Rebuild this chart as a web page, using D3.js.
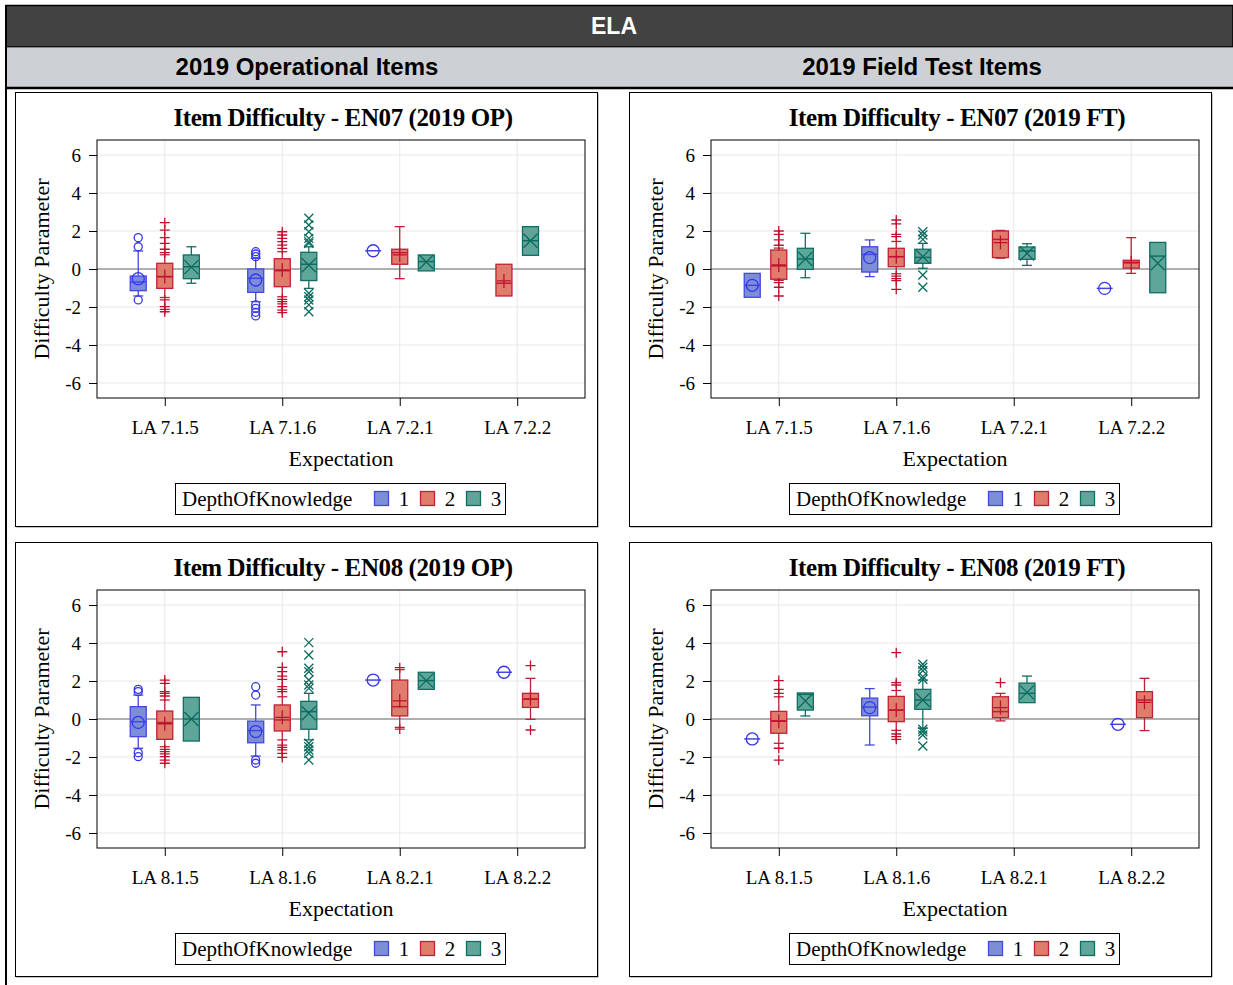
<!DOCTYPE html>
<html>
<head>
<meta charset="utf-8">
<script src="https://cdn.jsdelivr.net/npm/d3@7"></script>
<style>
  body { margin: 0; background: #fff; }
  svg { display: block; }
</style>
</head>
<body>
<svg width="1233" height="985"></svg>
<script>
// ---- data ----
const cats07 = ["LA 7.1.5", "LA 7.1.6", "LA 7.2.1", "LA 7.2.2"];
const cats08 = ["LA 8.1.5", "LA 8.1.6", "LA 8.2.1", "LA 8.2.2"];
const dokLevels = [1, 2, 3];
const yTicks = [-6, -4, -2, 0, 2, 4, 6];

// [category, dok, min, q1, median, q3, max, mean, outliers]
const en07OP = [
  ["LA 7.1.5", 1, -1.42, -1.14, -0.68, -0.37, 0.95, -0.51, [1.65, 1.17, -1.63]],
  ["LA 7.1.5", 2, -1.5, -1.02, -0.4, 0.3, 0.75, -0.4, [2.44, 2.05, 1.65, 1.35, 1.04, 0.86, -1.63, -1.98, -2.12, -2.25]],
  ["LA 7.1.5", 3, -0.75, -0.51, 0.12, 0.74, 1.17, 0.1, []],
  ["LA 7.1.6", 1, -1.72, -1.23, -0.49, 0.0, 0.56, -0.58, [0.91, 0.79, 0.65, -1.89, -2.07, -2.28, -2.47]],
  ["LA 7.1.6", 2, -1.46, -0.93, -0.09, 0.54, 0.91, -0.05, [1.96, 1.79, 1.61, 1.44, 1.26, 1.09, -1.6, -1.72, -1.84, -1.98, -2.16, -2.3]],
  ["LA 7.1.6", 3, -1.02, -0.61, 0.25, 0.88, 1.17, 0.2, [2.67, 2.32, 1.96, 1.61, 1.44, 1.35, -1.28, -1.46, -1.63, -1.89, -2.25]],
  ["LA 7.2.1", 1, 0.96, 0.96, 0.96, 0.96, 0.96, 0.96, []],
  ["LA 7.2.1", 2, -0.51, 0.25, 0.86, 1.04, 2.23, 0.74, []],
  ["LA 7.2.1", 3, -0.1, -0.1, 0.39, 0.74, 0.74, 0.37, []],
  ["LA 7.2.2", 2, -1.42, -1.42, -0.75, 0.25, 0.25, -0.63, []],
  ["LA 7.2.2", 3, 0.72, 0.72, 1.49, 2.23, 2.23, 1.49, []]
];

const en07FT = [
  ["LA 7.1.5", 1, -1.49, -1.49, -0.86, -0.23, -0.23, -0.86, []],
  ["LA 7.1.5", 2, -0.6, -0.54, 0.16, 1.0, 1.1, 0.21, [2.0, 1.82, 1.53, 1.25, -0.72, -0.96, -1.42]],
  ["LA 7.1.5", 3, -0.46, -0.02, 0.53, 1.09, 1.88, 0.53, []],
  ["LA 7.1.6", 1, -0.4, -0.16, 0.77, 1.17, 1.53, 0.6, []],
  ["LA 7.1.6", 2, -0.25, 0.12, 0.65, 1.09, 1.45, 0.65, [2.58, 2.37, 1.82, 1.7, -0.37, -0.51, -0.61, -1.07]],
  ["LA 7.1.6", 3, 0.04, 0.3, 0.61, 1.04, 1.35, 0.65, [1.96, 1.79, 1.56, -0.32, -0.96]],
  ["LA 7.2.1", 2, 0.57, 0.6, 1.56, 2.0, 2.03, 1.39, []],
  ["LA 7.2.1", 3, 0.19, 0.51, 0.95, 1.16, 1.33, 0.82, []],
  ["LA 7.2.2", 1, -1.02, -1.02, -1.02, -1.02, -1.02, -1.02, []],
  ["LA 7.2.2", 2, -0.23, 0.05, 0.35, 0.46, 1.65, 0.33, []],
  ["LA 7.2.2", 3, -1.25, -1.25, 0.68, 1.4, 1.4, 0.3, []]
];

const en08OP = [
  ["LA 8.1.5", 1, -1.54, -0.93, -0.14, 0.65, 1.26, -0.18, [1.56, 1.44, -1.77, -1.98]],
  ["LA 8.1.5", 2, -1.46, -1.07, -0.19, 0.42, 1.0, -0.25, [2.05, 1.88, 1.44, 1.35, 1.21, -1.6, -1.72, -1.84, -1.98, -2.16, -2.33]],
  ["LA 8.1.5", 3, -1.16, -1.16, 0.0, 1.14, 1.14, 0.0, []],
  ["LA 8.1.6", 1, -1.95, -1.25, -0.61, -0.11, 0.74, -0.66, [1.7, 1.26, -2.16, -2.33]],
  ["LA 8.1.6", 2, -1.1, -0.63, -0.05, 0.74, 1.17, 0.09, [3.54, 2.72, 2.49, 2.26, 2.09, 1.7, 1.56, 1.44, -1.37, -1.49, -1.63, -1.81, -2.02]],
  ["LA 8.1.6", 3, -1.1, -0.54, 0.39, 0.93, 1.35, 0.3, [4.02, 3.37, 2.67, 2.49, 2.05, 1.79, 1.61, -1.28, -1.46, -1.63, -1.81, -2.16]],
  ["LA 8.2.1", 1, 2.05, 2.05, 2.05, 2.05, 2.05, 2.05, []],
  ["LA 8.2.1", 2, -0.44, 0.16, 0.65, 2.05, 2.6, 0.95, [2.7, -0.53]],
  ["LA 8.2.1", 3, 1.56, 1.56, 2.02, 2.46, 2.46, 2.02, []],
  ["LA 8.2.2", 1, 2.46, 2.46, 2.46, 2.46, 2.46, 2.46, []],
  ["LA 8.2.2", 2, -0.02, 0.61, 1.04, 1.35, 2.14, 1.06, [2.81, -0.58]]
];

const en08FT = [
  ["LA 8.1.5", 1, -1.05, -1.05, -1.05, -1.05, -1.05, -1.05, []],
  ["LA 8.1.5", 2, -1.28, -0.75, -0.09, 0.4, 1.17, -0.12, [2.02, 1.56, 1.35, -1.54, -2.16]],
  ["LA 8.1.5", 3, 0.16, 0.47, 1.3, 1.37, 1.37, 0.95, []],
  ["LA 8.1.6", 1, -1.37, 0.17, 0.63, 1.1, 1.6, 0.6, []],
  ["LA 8.1.6", 2, -0.6, -0.14, 0.47, 1.19, 1.5, 0.47, [3.49, 1.91, 1.79, -0.79, -0.93, -1.07]],
  ["LA 8.1.6", 3, -0.49, 0.51, 1.0, 1.56, 2.05, 1.0, [2.88, 2.72, 2.54, 2.23, 2.09, -0.54, -0.67, -0.84, -1.42]],
  ["LA 8.2.1", 2, -0.1, 0.07, 0.39, 1.17, 1.35, 0.6, [1.91]],
  ["LA 8.2.1", 3, 0.86, 0.86, 1.35, 1.89, 2.26, 1.4, []],
  ["LA 8.2.2", 1, -0.28, -0.28, -0.28, -0.28, -0.28, -0.28, []],
  ["LA 8.2.2", 2, -0.61, 0.07, 1.0, 1.44, 2.14, 0.88, []]
];

// ---- styles ----
const fillColor = {1: "#7c8fd6", 2: "#e07c6c", 3: "#5ea59a"};
const lineColor = {1: "#4646e0", 2: "#c01f38", 3: "#0f6e62"};
const markColor = {1: "#3535ee", 2: "#c0102e", 3: "#0c6b5f"};
const markType = {1: "circle", 2: "plus", 3: "x"};

function marker(type, r) {
  if (type == "circle")
    return "M" + (-r) + ",0a" + r + "," + r + " 0 1,0 " + (2 * r) + ",0a" + r + "," + r + " 0 1,0 " + (-2 * r) + ",0";
  if (type == "plus")
    return "M" + (-r) + ",0H" + r + "M0," + (-r) + "V" + r;
  return "M" + (-r) + "," + (-r) + "L" + r + "," + r + "M" + (-r) + "," + r + "L" + r + "," + (-r);
}
const outR = {circle: 4, plus: 5, x: 4.5};
const meanR = {circle: 6, plus: 7, x: 7};

let svg = d3.select("svg");
const W = 1233, serif = "Liberation Serif, Times New Roman, serif", sans = "Liberation Sans, Arial, sans-serif";

// ---- header bars ----
svg.append("rect").attr("x", 6).attr("y", 5.5).attr("width", W - 6).attr("height", 41.5)
  .attr("fill", "#424242").attr("stroke", "#000").attr("stroke-width", 1.5);
svg.append("rect").attr("x", 6).attr("y", 47.5).attr("width", W - 6).attr("height", 40)
  .attr("fill", "#cdd1d5");
svg.append("line").attr("x1", 6).attr("x2", W).attr("y1", 88).attr("y2", 88)
  .attr("stroke", "#000").attr("stroke-width", 2.5);
svg.append("line").attr("x1", 6).attr("x2", 6).attr("y1", 5).attr("y2", 985)
  .attr("stroke", "#000").attr("stroke-width", 2);

svg.append("text").attr("x", 614).attr("y", 34).attr("text-anchor", "middle")
  .attr("font-family", sans).attr("font-weight", "bold").attr("font-size", 23)
  .attr("fill", "#fff").text("ELA");
svg.append("text").attr("x", 307).attr("y", 75).attr("text-anchor", "middle")
  .attr("font-family", sans).attr("font-weight", "bold").attr("font-size", 24)
  .text("2019 Operational Items");
svg.append("text").attr("x", 922).attr("y", 75).attr("text-anchor", "middle")
  .attr("font-family", sans).attr("font-weight", "bold").attr("font-size", 24)
  .text("2019 Field Test Items");

// ---- one panel ----
function drawPanel(ox, oy, title, cats, rows) {
  let g = svg.append("g").attr("transform", "translate(" + ox + "," + oy + ")");
  const pw = 582, ph = 434;
  const left = 82, right = 570, top = 48, bottom = 306;

  // panel border with small shadow
  g.append("rect").attr("x", 1.5).attr("y", 1.5).attr("width", pw).attr("height", ph).attr("fill", "#8a8a8a");
  g.append("rect").attr("x", 0.5).attr("y", 0.5).attr("width", pw).attr("height", ph)
    .attr("fill", "#fff").attr("stroke", "#000").attr("stroke-width", 1);

  let x = d3.scalePoint().domain(cats).range([left, right]).padding(0.577);
  let y = d3.scaleLinear().domain([-6.79, 6.79]).range([bottom, top]);
  const cx = (left + right) / 2;

  g.append("text").attr("x", cx + 2).attr("y", 34).attr("text-anchor", "middle")
    .attr("font-family", serif).attr("font-weight", "bold").attr("font-size", 25)
    .attr("letter-spacing", -0.4).text(title);

  // grid
  g.append("g").selectAll("line").data(yTicks).enter().append("line")
    .attr("x1", left).attr("x2", right).attr("y1", d => y(d)).attr("y2", d => y(d))
    .attr("stroke", "#e8e8e8").attr("stroke-width", 1);
  g.append("g").selectAll("line").data(cats).enter().append("line")
    .attr("x1", d => x(d)).attr("x2", d => x(d)).attr("y1", top).attr("y2", bottom)
    .attr("stroke", "#e8e8e8").attr("stroke-width", 1);
  // reference line at 0
  g.append("line").attr("x1", left).attr("x2", right).attr("y1", y(0)).attr("y2", y(0))
    .attr("stroke", "#999").attr("stroke-width", 1.5);

  // axes
  let yAxis = g.append("g").attr("transform", "translate(" + left + ",0)")
    .call(d3.axisLeft(y).tickValues(yTicks).tickFormat(d => String(d)).tickSize(8).tickPadding(8));
  let xAxis = g.append("g").attr("transform", "translate(0," + bottom + ")")
    .call(d3.axisBottom(x).tickSize(8).tickPadding(15));
  [yAxis, xAxis].forEach(a => {
    a.select(".domain").remove();
    a.selectAll("line").attr("stroke", "#000");
    a.selectAll("text").attr("font-family", serif).attr("font-size", 19).attr("fill", "#000");
  });

  // frame
  g.append("rect").attr("x", left).attr("y", top).attr("width", right - left).attr("height", bottom - top)
    .attr("fill", "none").attr("stroke", "#000").attr("stroke-width", 1);

  // axis labels
  g.append("text").attr("x", cx).attr("y", 374).attr("text-anchor", "middle")
    .attr("font-family", serif).attr("font-size", 22).text("Expectation");
  g.append("text").attr("transform", "translate(34," + ((top + bottom) / 2) + ") rotate(-90)")
    .attr("text-anchor", "middle").attr("font-family", serif).attr("font-size", 22)
    .text("Difficulty Parameter");

  // boxes
  const gap = x.step() * 0.226, bw = 16, cap = 5;
  rows.forEach(r => {
    const [cat, dok, mn, q1, med, q3, mx, mean, outs] = r;
    const present = rows.filter(s => s[0] == cat).map(s => s[1]);
    const i = present.indexOf(dok);
    const px = x(cat) + (i - (present.length - 1) / 2) * gap;
    let b = g.append("g");
    // whiskers
    b.append("line").attr("x1", px).attr("x2", px).attr("y1", y(mn)).attr("y2", y(q1))
      .attr("stroke", lineColor[dok]).attr("stroke-width", 1.3);
    b.append("line").attr("x1", px).attr("x2", px).attr("y1", y(q3)).attr("y2", y(mx))
      .attr("stroke", lineColor[dok]).attr("stroke-width", 1.3);
    if (mx > q3) b.append("line").attr("x1", px - cap).attr("x2", px + cap).attr("y1", y(mx)).attr("y2", y(mx))
      .attr("stroke", lineColor[dok]).attr("stroke-width", 1.3);
    if (mn < q1) b.append("line").attr("x1", px - cap).attr("x2", px + cap).attr("y1", y(mn)).attr("y2", y(mn))
      .attr("stroke", lineColor[dok]).attr("stroke-width", 1.3);
    // box
    if (q3 > q1) b.append("rect").attr("x", px - bw / 2).attr("y", y(q3)).attr("width", bw).attr("height", y(q1) - y(q3))
      .attr("fill", fillColor[dok]).attr("stroke", lineColor[dok]).attr("stroke-width", 1.3);
    // median
    b.append("line").attr("x1", px - bw / 2).attr("x2", px + bw / 2).attr("y1", y(med)).attr("y2", y(med))
      .attr("stroke", lineColor[dok]).attr("stroke-width", 1.5);
    // mean
    b.append("path").attr("transform", "translate(" + px + "," + y(mean) + ")")
      .attr("d", marker(markType[dok], meanR[markType[dok]]))
      .attr("fill", "none").attr("stroke", markColor[dok]).attr("stroke-width", 1.3);
    // outliers
    b.selectAll(".out").data(outs).enter().append("path").attr("class", "out")
      .attr("transform", d => "translate(" + px + "," + y(d) + ")")
      .attr("d", marker(markType[dok], outR[markType[dok]]))
      .attr("fill", "none").attr("stroke", markColor[dok]).attr("stroke-width", 1.3);
  });

  // legend
  let lg = g.append("g").attr("transform", "translate(" + (cx - 166) + ",391)");
  lg.append("rect").attr("x", 0.5).attr("y", 0.5).attr("width", 330).attr("height", 31)
    .attr("fill", "#fff").attr("stroke", "#000").attr("stroke-width", 1);
  lg.append("text").attr("x", 7).attr("y", 23).attr("font-family", serif).attr("font-size", 21)
    .text("DepthOfKnowledge");
  dokLevels.forEach((d, i) => {
    lg.append("rect").attr("x", 199.5 + i * 46).attr("y", 8.5).attr("width", 14).attr("height", 14)
      .attr("fill", fillColor[d]).attr("stroke", lineColor[d]).attr("stroke-width", 1.3);
    lg.append("text").attr("x", 229 + i * 46).attr("y", 23).attr("text-anchor", "middle")
      .attr("font-family", serif).attr("font-size", 21).text(d);
  });
}

drawPanel(15, 92, "Item Difficulty - EN07 (2019 OP)", cats07, en07OP);
drawPanel(629, 92, "Item Difficulty - EN07 (2019 FT)", cats07, en07FT);
drawPanel(15, 542, "Item Difficulty - EN08 (2019 OP)", cats08, en08OP);
drawPanel(629, 542, "Item Difficulty - EN08 (2019 FT)", cats08, en08FT);
</script>
</body>
</html>
